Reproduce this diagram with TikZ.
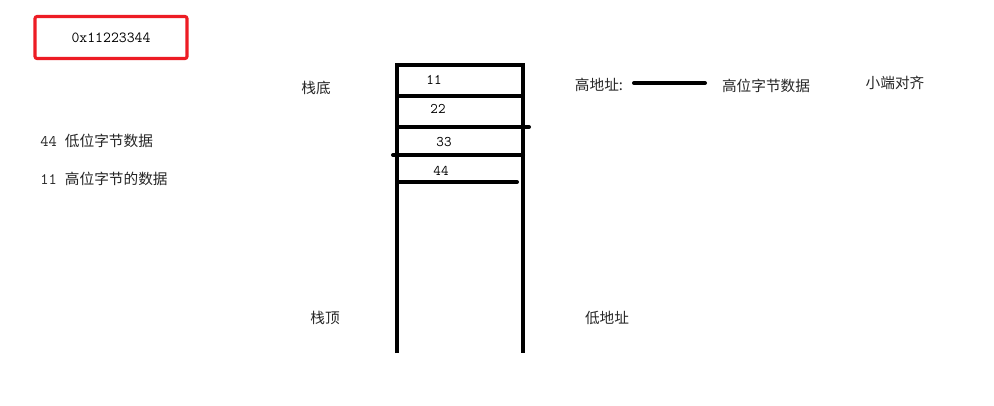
\documentclass[tikz,border=0pt]{standalone}
\usepackage{fontspec}
\newfontfamily\cjk{Noto Sans CJK SC}
\begin{document}
\begin{tikzpicture}[x=0.75pt,y=-0.75pt,
  cn/.style={font=\cjk\fontsize{11}{13}\selectfont,inner sep=0pt,text=black!85},
  num/.style={font=\ttfamily\fontsize{11}{13}\selectfont,inner sep=0pt},
  lbl/.style={font=\fontsize{11}{13}\selectfont,inner sep=0pt,anchor=west,text=black!85}]
\useasboundingbox[fill=white] (0,0) rectangle (994,405);
% red box
\node[draw={rgb,255:red,237;green,28;blue,36},line width=2.3pt,rounded corners=1.5pt,
  minimum width=114pt,minimum height=31.5pt,inner sep=0pt,
  font=\ttfamily\fontsize{11.5}{13}\selectfont] (hex) at (111,37.5) {0x11223344};
% stack
\coordinate (tl) at (397,65);
\coordinate (tr) at (523,65);
\coordinate (bl) at (397,353);
\coordinate (br) at (523,353);
\draw[line width=3pt] (bl) -- (tl) -- (tr) -- (br);
\coordinate (a1) at (397,96); \coordinate (b1) at (523,96);
\coordinate (a2) at (397,127); \coordinate (b2) at (529,127);
\coordinate (a3) at (393,155); \coordinate (b3) at (523,155);
\coordinate (a4) at (397,182); \coordinate (b4) at (517,182);
\draw[line width=3pt] (a1) -- (b1);
\draw[line width=3pt,line cap=round] (a2) -- (b2);
\draw[line width=3pt,line cap=round] (a3) -- (b3);
\draw[line width=3pt,line cap=round] (a4) -- (b4);
\node[num] (n11) at (434,80) {11};
\node[num] (n22) at (438,109) {22};
\node[num] (n33) at (444,142) {33};
\node[num] (n44) at (441,171) {44};
% labels
\node[cn] (bottom) at (316,88) {栈底};
\node[cn] (top) at (325,318) {栈顶};
\node[cn] (low) at (607,318) {低地址};
\node[cn] (high) at (599,85) {高地址:};
\node[cn] (hb) at (766,86) {高位字节数据};
\node[cn] (le) at (895,83) {小端对齐};
\coordinate (ls) at (634,83);
\coordinate (le2) at (705,83);
\draw[line width=3pt,line cap=round] (ls) -- (le2);
\node[lbl] (l44) at (40,141) {\ttfamily\fontsize{12}{13}\selectfont 44 \cjk\fontsize{11}{13}\selectfont 低位字节数据};
\node[lbl] (l11) at (40,179) {\ttfamily\fontsize{12}{13}\selectfont 11 \cjk\fontsize{11}{13}\selectfont 高位字节的数据};
\end{tikzpicture}
\end{document}
